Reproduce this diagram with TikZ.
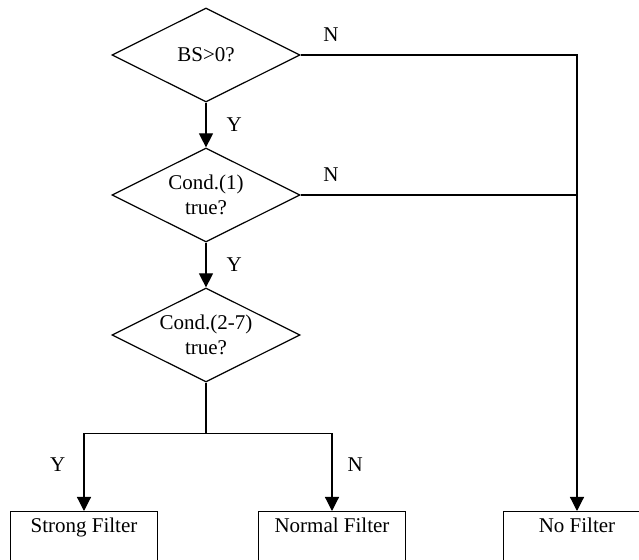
\documentclass[tikz,border=0pt]{standalone}
\usepackage{fontspec}
\setmainfont{Liberation Serif}
\usetikzlibrary{shapes.geometric,arrows.meta}

\begin{document}
\begin{tikzpicture}[x=0.5pt,y=-0.5pt,
  font=\fontsize{10.5}{12.5}\selectfont,
  line/.style={line width=0.6pt},
  arr/.style={line, -{Triangle[length=7pt,width=7pt]}},
  decision/.style={draw, line width=0.6pt, diamond, aspect=2, minimum width=94pt, minimum height=47pt, inner sep=0pt, align=center},
  filter/.style={draw, line width=0.6pt, anchor=north, minimum width=73.5pt, inner sep=0pt, text height=10.5pt, text depth=21.5pt},
  lbl/.style={inner sep=0pt}]

% Page frame
\clip (0,0) rectangle (639,560);

% Draw the decisions
\node[decision] (bs) at (206,55) {BS>0?};
\node[decision] (cond1) at (206,195) {Cond.(1)\\true?};
\node[decision] (cond27) at (206,335) {Cond.(2-7)\\true?};

% Draw the filters
\node[filter] (strong) at (84,511) {Strong Filter};
\node[filter] (normal) at (332,511) {Normal Filter};
\node[filter] (nofilt) at (577,511) {No Filter};

% Draw the yes branches
\draw[arr] (bs) -- node[lbl, right=10pt] {Y} (cond1);
\draw[arr] (cond1) -- node[lbl, right=10pt] {Y} (cond27);

% Draw the no branches
\coordinate (merge) at (nofilt.north |- cond1.east);
\draw[arr] (bs.east) -- node[lbl, pos=0.11, above=6.5pt] {N} (bs.east -| nofilt.north) -- (nofilt.north);
\draw[line] (cond1.east) -- node[lbl, pos=0.11, above=6.5pt] {N} (merge);

% Draw the split below the last decision
\draw[line] (cond27.south) -- ++(0,51) coordinate (split);
\draw[arr] (split) -| node[lbl, pos=0.7, left=9pt] {Y} (strong.north);
\draw[arr] (split) -| node[lbl, pos=0.7, right=7.5pt] {N} (normal.north);

\end{tikzpicture}
\end{document}
